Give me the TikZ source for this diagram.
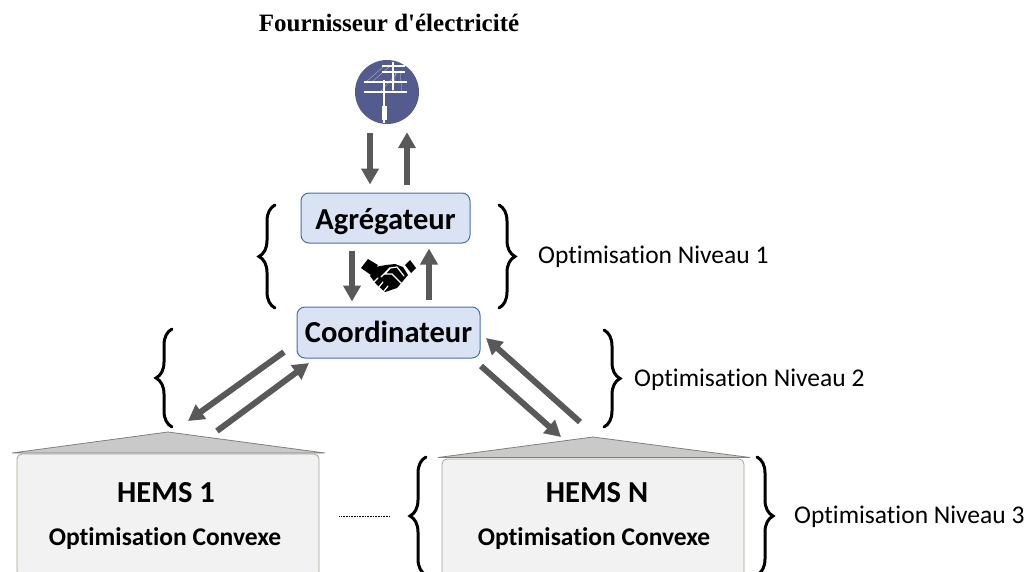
\documentclass[tikz,border=0pt]{standalone}
\usepackage{fontspec}
\setmainfont[Ligatures=NoCommon]{Carlito}
\newfontfamily\titlefont{Liberation Serif}
\usetikzlibrary{arrows.meta, decorations.pathreplacing}

\begin{document}
\begin{tikzpicture}[
    x=1pt, y=-1pt,    % same grid as the reference, y pointing down
    flow/.style={line width=6pt, draw=flowgray, -{Triangle[length=16pt, width=17pt]}},
    bracket/.style={line width=3pt, line cap=round, decorate, decoration={brace, amplitude=16pt, aspect=0.5}},
    actor/.style={rectangle, rounded corners=8pt, draw=actorline, line width=1pt, fill=actorfill, font=\bfseries\fontsize{30.5}{33}\selectfont, text=black},
    hems/.style={rectangle, rounded corners=5pt, draw=hemsline, line width=0.8pt, fill=hemsfill, minimum width=302pt, minimum height=122pt},
    roof/.style={draw=roofline, line width=0.8pt, fill=rooffill},
    levelnote/.style={anchor=west, inner sep=0pt, font=\fontsize{25.5}{28}\selectfont},
    hemstitle/.style={font=\bfseries\fontsize{30.5}{33}\selectfont},
    hemstext/.style={font=\bfseries\fontsize{25.5}{28}\selectfont},
    gapline/.style={white, line width=1.2pt, line cap=round},
]
\definecolor{flowgray}{HTML}{595959}
\definecolor{actorline}{HTML}{4472A8}
\definecolor{actorfill}{HTML}{DAE3F3}
\definecolor{hemsline}{HTML}{A5A595}
\definecolor{hemsfill}{HTML}{F2F2F2}
\definecolor{roofline}{HTML}{808080}
\definecolor{rooffill}{HTML}{C9C9C9}
\definecolor{poleblue}{HTML}{545B8E}

\useasboundingbox (0,0) rectangle (1030,571);

% ── Supplier ──────────────────────────────────────────────────────────────────
\node[font=\titlefont\bfseries\fontsize{25}{28}\selectfont] (supplier) at (389,23) {Fournisseur d'électricité};
\node[circle, fill=poleblue, minimum size=64pt, inner sep=0pt] (pole) at (387,92) {};

% Pole icon
\draw[white!70!poleblue, line width=0.25pt] (366,82) -- (384,66) (372,82) -- (390,66) (380,92) -- (398,72) (392,92) -- (396,72) (402,92) -- (400,72);
\draw[white, line width=1.6pt] (384,80) -- (384,123) (393,62) -- (393,90);
\draw[white, line width=1.5pt] (364,82) -- (407,82) (364,92) -- (407,92) (382,66) -- (405,66) (382,72) -- (405,72);
\draw[white, line width=5pt] (384,106) -- (384,120);

% ── Actors ────────────────────────────────────────────────────────────────────
\node[actor, minimum width=169pt, minimum height=50pt] (aggregator) at (385.5,218) {\smash{\raisebox{-11pt}{Agrégateur}}};
\node[actor, minimum width=183pt, minimum height=51pt] (coordinator) at (388.5,332.5) {\smash{\raisebox{-9.5pt}{Coordinateur}}};

% ── HEMS houses ───────────────────────────────────────────────────────────────
\node[hems] (hemsA) at (168,515) {};
\node[hems] (hemsB) at (593,520) {};
\coordinate (roofA) at (168,432);
\coordinate (roofB) at (593,437);
\filldraw[roof] (12,453) -- (roofA) -- (325,453) -- cycle;
\filldraw[roof] (438,457.5) -- (roofB) -- (750,457.5) -- cycle;

\node[hemstitle] (hemsAname) at (166,493) {HEMS 1};
\node[hemstext] (hemsAtext) at (165,539) {Optimisation Convexe};
\node[hemstitle] (hemsBname) at (597,493) {HEMS N};
\node[hemstext] (hemsBtext) at (594,539) {Optimisation Convexe};

\draw[black, line width=1pt, dash pattern=on 1pt off 0.6pt] (hemsA.east |- 0,516) ++(20,0) -- ++(50,0);

% ── Exchanges ─────────────────────────────────────────────────────────────────
\draw[flow] ([shift={(-17,9)}]pole.south) -- ([shift={(-15.5,-8)}]aggregator.north);
\draw[flow] ([shift={(21.5,-8)}]aggregator.north) -- ([shift={(20,8)}]pole.south);
\draw[flow] ([shift={(-33.5,7)}]aggregator.south) -- ([shift={(-36.5,-5)}]coordinator.north);
\draw[flow] ([shift={(40.5,-7)}]coordinator.north) -- ([shift={(43.5,5)}]aggregator.south);

\coordinate (hemsAend) at (188,421);
\coordinate (hemsAstart) at (217,431);
\coordinate (hemsBend) at (561,437);
\coordinate (hemsBstart) at (580,422);
\draw[flow] (284,352) -- (hemsAend);
\draw[flow] (hemsAstart) -- (309,363);
\draw[flow] (481,366) -- (hemsBend);
\draw[flow] (hemsBstart) -- (486,338);

% ── Handshake ─────────────────────────────────────────────────────────────────
\fill[black] (368,259) -- (361,268) -- (371,275) -- (378,265) -- cycle;
\fill[black] (405,265) -- (410,260) -- (416,268) -- (411,273) -- cycle;
\fill[black] (375,267) -- (386,265) -- (395,264) -- (403,267) -- (408,275) -- (397,288) -- (385,292) -- (376,284) -- (370,276) -- cycle;
\draw[gapline] (381,277) -- (390,268) -- (397,267) -- (404,276);
\draw[gapline] (390,268) -- (385,274) -- (392,274) -- (402,284);
\draw[gapline] (374,282) -- (378,278) (379,287) -- (383,282) (384,291) -- (388,286);

% ── Braces and levels ─────────────────────────────────────────────────────────
\coordinate (levelAtop) at (275,205);
\coordinate (levelAbot) at (275,308);
\coordinate (levelArtop) at (499,205);
\coordinate (levelArbot) at (499,308);
\draw[bracket] (levelAbot) -- (levelAtop);
\draw[bracket] (levelArtop) -- (levelArbot);
\node[levelnote] (levelA) at (538,257) {Optimisation Niveau 1};

\coordinate (levelBtop) at (172,329);
\coordinate (levelBbot) at (172,427);
\coordinate (levelBrtop) at (604,330);
\coordinate (levelBrbot) at (604,427);
\draw[bracket] (levelBbot) -- (levelBtop);
\draw[bracket] (levelBrtop) -- (levelBrbot);
\node[levelnote] (levelB) at (634,380) {Optimisation Niveau 2};

\coordinate (levelCtop) at (426,457);
\coordinate (levelCbot) at (426,575);
\coordinate (levelCrtop) at (757,457);
\coordinate (levelCrbot) at (757,575);
\draw[bracket] (levelCbot) -- (levelCtop);
\draw[bracket] (levelCrtop) -- (levelCrbot);
\node[levelnote] (levelC) at (794,517) {Optimisation Niveau 3};

\end{tikzpicture}
\end{document}
